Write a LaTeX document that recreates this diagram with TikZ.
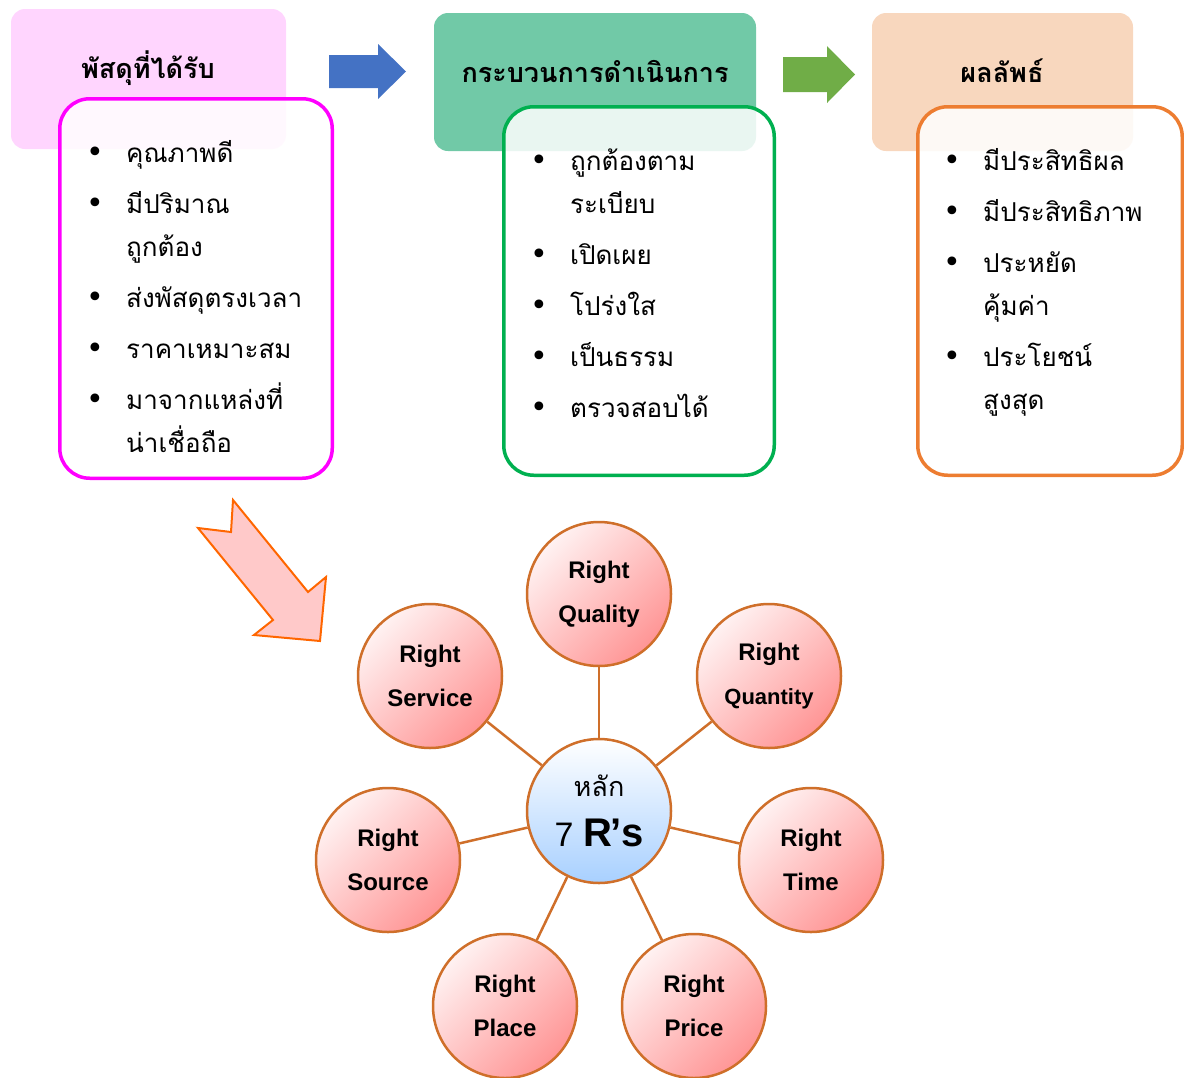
\documentclass[tikz,border=0pt]{standalone}
\usepackage{fontspec}
\setmainfont{Liberation Sans}
\newfontfamily\thaifont[Script=Thai]{Loma}
\newfontfamily\bulfont{DejaVu Sans}
\definecolor{recvfill}{HTML}{FFD5FE}
\definecolor{procfill}{HTML}{71C9A7}
\definecolor{resfill}{HTML}{F8D7BE}
\definecolor{recvline}{HTML}{FF00FF}
\definecolor{procline}{HTML}{00B050}
\definecolor{resline}{HTML}{ED7D31}
\definecolor{bluearr}{HTML}{4472C4}
\definecolor{greenarr}{HTML}{70AD47}
\definecolor{bigfill}{HTML}{FFC9C9}
\definecolor{bigline}{HTML}{FF6600}
\definecolor{rline}{HTML}{CF6F2A}
\definecolor{rlight}{HTML}{FFF2F2}
\definecolor{rdark}{HTML}{FF9595}
\definecolor{hubdark}{HTML}{A8D0FF}
\newcommand{\bul}{\makebox[31pt][l]{\makebox[0pt][c]{\fontsize{30}{30}\bulfont •}}}

\tikzset{
  titlebox/.style={rounded corners=14pt,inner sep=0pt},
  headtext/.style={font=\thaifont\bfseries\fontsize{27}{34}\selectfont},
  listbox/.style={rounded corners=30pt,line width=3.5pt,fill=white,fill opacity=0.85,text opacity=1},
  listtext/.style={font=\thaifont\fontsize{26}{43}\selectfont,inner sep=0pt,anchor=base west},
  rnode/.style={circle,draw=rline,line width=2.5pt,minimum size=144pt,inner sep=0pt,
    top color=rlight,bottom color=rdark,shading angle=45,align=center,
    font=\bfseries\fontsize{24}{44}\selectfont},
  hub/.style={rnode,top color=white,bottom color=hubdark},
  spoke/.style={draw=rline,line width=2.5pt}
}

\begin{document}
\begin{tikzpicture}[x=1pt,y=-1pt]
    \useasboundingbox (0,0) rectangle (1184,1077);

    \node[titlebox,fill=recvfill,minimum width=275pt,minimum height=140pt] (Recv) at (148.5,79) {};
    \node[titlebox,fill=procfill,minimum width=322pt,minimum height=138pt] (Proc) at (595,82) {};
    \node[titlebox,fill=resfill,minimum width=261pt,minimum height=138pt] (Res) at (1002.5,82) {};
    \node[headtext] (RecvT) at (148,68) {พัสดุที่ได้รับ};
    \node[headtext] (ProcT) at (595,71) {กระบวนการดำเนินการ};
    \node[headtext] (ResT) at (1002,71) {ผลลัพธ์};

    \node[listbox,draw=recvline,minimum width=272.5pt,minimum height=379.5pt] (RecvL) at (196,288.5) {};
    \node[listbox,draw=procline,minimum width=270.5pt,minimum height=368.5pt] (ProcL) at (639,291) {};
    \node[listbox,draw=resline,minimum width=264.5pt,minimum height=368.5pt] (ResL) at (1050,291) {};

    \node[listtext] (RecvI) at (95,162) {\begin{tabular}[t]{@{}l@{}l@{}}
      \bul & คุณภาพดี\\[8pt]
      \bul & มีปริมาณ\\
           & ถูกต้อง\\[8pt]
      \bul & ส่งพัสดุตรงเวลา\\[8pt]
      \bul & ราคาเหมาะสม\\[8pt]
      \bul & มาจากแหล่งที่\\
           & น่าเชื่อถือ
    \end{tabular}};
    \node[listtext] (ProcI) at (539,170) {\begin{tabular}[t]{@{}l@{}l@{}}
      \bul & ถูกต้องตาม\\
           & ระเบียบ\\[8pt]
      \bul & เปิดเผย\\[8pt]
      \bul & โปร่งใส\\[8pt]
      \bul & เป็นธรรม\\[8pt]
      \bul & ตรวจสอบได้
    \end{tabular}};
    \node[listtext] (ResI) at (952,170) {\begin{tabular}[t]{@{}l@{}l@{}}
      \bul & มีประสิทธิผล\\[8pt]
      \bul & มีประสิทธิภาพ\\[8pt]
      \bul & ประหยัด\\
           & คุ้มค่า\\[8pt]
      \bul & ประโยชน์\\
           & สูงสุด
    \end{tabular}};

    \fill[bluearr] (329,55) -- (378,55) -- (378,44) -- (406,71.5) -- (378,99) -- (378,88) -- (329,88) -- cycle;
    \fill[greenarr] (783,57) -- (827,57) -- (827,46) -- (855,74.5) -- (827,103) -- (827,92) -- (783,92) -- cycle;
    \draw[bigline,fill=bigfill,line width=2pt] (198,528) -- (231,532) -- (233,500) -- (308,592)
      -- (326,577) -- (320,641) -- (254,635) -- (273,620) -- cycle;

    \node[hub] (Hub) at (599,811) {{\thaifont\fontsize{27}{30}\selectfont\mdseries หลัก}\\[6pt]
      {\fontsize{34}{40}\selectfont\mdseries 7 {\bfseries\fontsize{40}{40}\selectfont R\kern-1pt'\kern-1pt s}}};
    \node[rnode] (Qual) at (599,594) {Right\\Quality};
    \node[rnode] (Serv) at (430,676) {Right\\Service};
    \node[rnode] (Quan) at (769,676) {Right\\{\fontsize{22}{44}\selectfont Quantity}};
    \node[rnode] (Src) at (388,860) {Right\\Source};
    \node[rnode] (Time) at (811,860) {Right\\Time};
    \node[rnode] (Place) at (505,1006) {Right\\Place};
    \node[rnode] (Price) at (694,1006) {Right\\Price};

    \foreach \n in {Qual,Serv,Quan,Src,Time,Place,Price}
      \draw[spoke] (Hub) -- (\n);
\end{tikzpicture}
\end{document}
